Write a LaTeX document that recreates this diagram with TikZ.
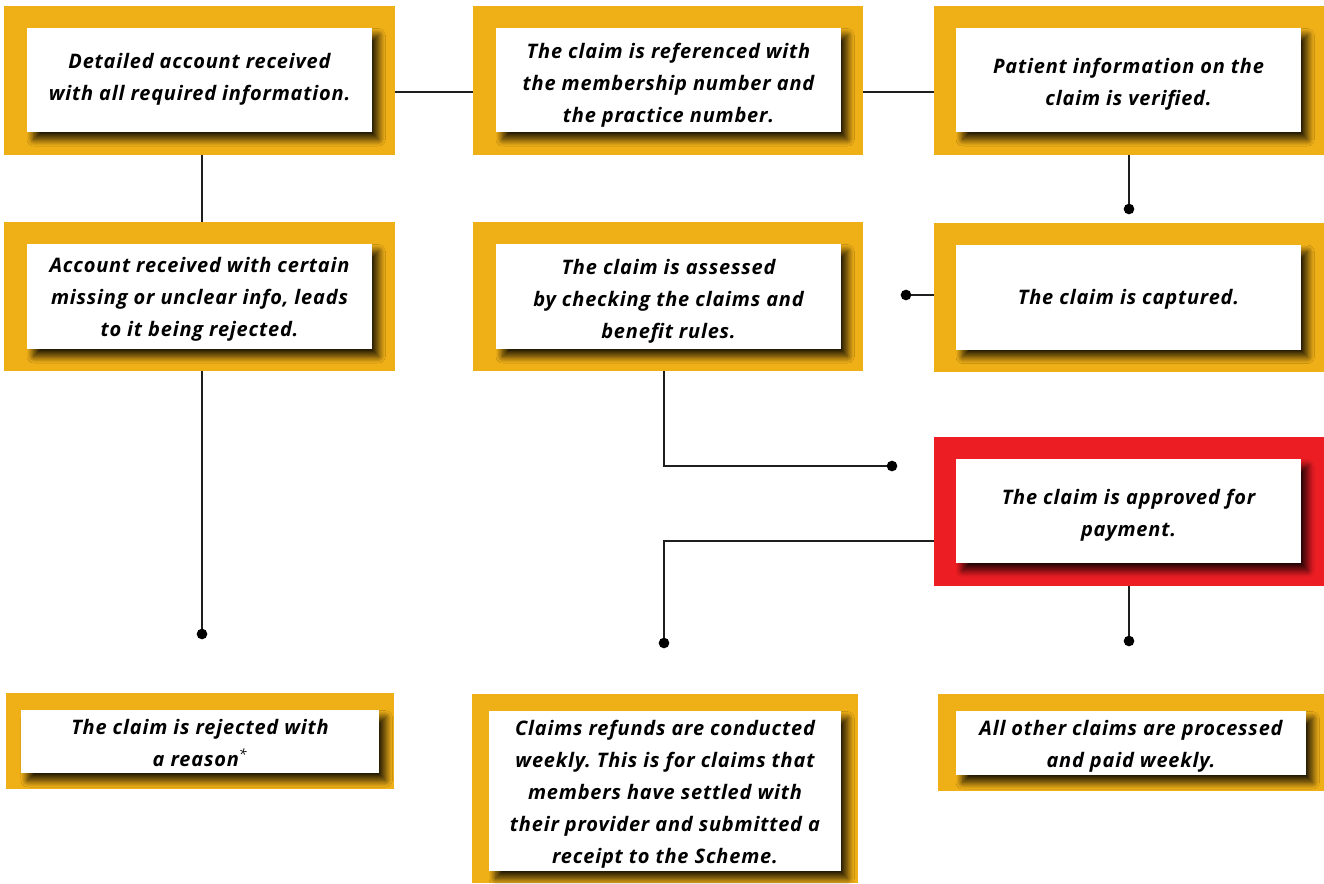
\documentclass[tikz,border=0pt]{standalone}
\usepackage{fontspec}
\setmainfont{Open Sans}[LetterSpace=4]
\usetikzlibrary{calc,shadows.blur}
\definecolor{gold}{RGB}{239,175,23}
\definecolor{alertred}{RGB}{237,29,36}
\definecolor{wire}{RGB}{30,30,30}
\tikzset{
  frame/.style={fill=gold, draw=none, inner sep=0pt},
  redframe/.style={fill=alertred, draw=none, inner sep=0pt},
  card/.style={fill=white, draw=none, inner sep=0pt,
    blur shadow={shadow xshift=5pt, shadow yshift=-5.5pt, shadow blur radius=5pt,
      shadow opacity=85, shadow blur steps=14}},
  txt/.style={inner sep=0pt, align=center,
    font=\fontsize{15}{24}\selectfont\bfseries\itshape\frenchspacing},
  wire/.style={draw=wire, line width=1.1pt},
  dot/.style={fill=black}
}
\begin{document}
\begin{tikzpicture}[x=0.75pt,y=-0.75pt]
\useasboundingbox (0,0) rectangle (1324,883);
% frames
\node[frame, minimum width=391*0.75pt, minimum height=149*0.75pt] (f1) at (199.5,80.5) {};
\node[frame, minimum width=390*0.75pt, minimum height=149*0.75pt] (f2) at (668,80.5) {};
\node[frame, minimum width=390*0.75pt, minimum height=149*0.75pt] (f3) at (1129,80.5) {};
\node[frame, minimum width=391*0.75pt, minimum height=149*0.75pt] (f4) at (199.5,296.5) {};
\node[frame, minimum width=390*0.75pt, minimum height=149*0.75pt] (f5) at (668,296.5) {};
\node[frame, minimum width=390*0.75pt, minimum height=149*0.75pt] (f6) at (1129,297.5) {};
\node[redframe, minimum width=390*0.75pt, minimum height=149*0.75pt] (f7) at (1129,511.5) {};
\node[frame, minimum width=388*0.75pt, minimum height=96*0.75pt] (f8) at (200,741) {};
\node[frame, minimum width=386*0.75pt, minimum height=189*0.75pt] (f9) at (665,788.5) {};
\node[frame, minimum width=386*0.75pt, minimum height=97*0.75pt] (f10) at (1131,742.5) {};
% cards
\node[card, minimum width=345*0.75pt, minimum height=104*0.75pt] (n1) at (199.5,80) {};
\node[card, minimum width=345*0.75pt, minimum height=104*0.75pt] (n2) at (668.5,80) {};
\node[card, minimum width=345*0.75pt, minimum height=104*0.75pt] (n3) at (1128.5,80) {};
\node[card, minimum width=345*0.75pt, minimum height=105*0.75pt] (n4) at (199.5,296.5) {};
\node[card, minimum width=345*0.75pt, minimum height=105*0.75pt] (n5) at (668.5,296.5) {};
\node[card, minimum width=345*0.75pt, minimum height=105*0.75pt] (n6) at (1128.5,297) {};
\node[card, minimum width=345*0.75pt, minimum height=104*0.75pt] (n7) at (1128.5,511) {};
\node[card, minimum width=358*0.75pt, minimum height=63*0.75pt] (n8) at (200,741.5) {};
\node[card, minimum width=352*0.75pt, minimum height=160*0.75pt] (n9) at (665,791) {};
\node[card, minimum width=350*0.75pt, minimum height=64*0.75pt] (n10) at (1131,743) {};
% texts
\node[txt] (t1) at ($(n1)+(0,-1)$) {Detailed account received\\with all required information.};
\node[txt] (t2) at ($(n2)+(0,5)$) {The claim is referenced with\\the membership number and\\the practice number.};
\node[txt] (t3) at ($(n3)+(0,4)$) {Patient information on the\\claim is verified.};
\node[txt] (t4) at ($(n4)+(0,3)$) {Account received with certain\\missing or unclear info, leads\\to it being rejected.};
\node[txt] (t5) at ($(n5)+(0,5)$) {The claim is assessed\\by checking the claims and\\benefit rules.};
\node[txt] (t6) at ($(n6)+(0,2)$) {The claim is captured.};
\node[txt] (t7) at ($(n7)+(0,4)$) {The claim is approved for\\payment.};
\node[txt] (t8) at ($(n8)+(0,1)$) {The claim is rejected with\\a reason\textsuperscript{\mdseries*}};
\node[txt] (t9) at ($(n9)+(0,3)$) {Claims refunds are conducted\\weekly. This is for claims that\\members have settled with\\their provider and submitted a\\receipt to the Scheme.};
\node[txt] (t10) at ($(n10)+(0,3)$) {All other claims are processed\\and paid weekly.};
% connector points
\coordinate (r1) at (0,92);
\coordinate (d3) at (1129,209);
\coordinate (d6) at (906,295);
\coordinate (d4) at (202,634);
\coordinate (c5) at (664,466);
\coordinate (d5) at (892,466);
\coordinate (c7) at (664,541);
\coordinate (d7) at (664,643);
\coordinate (d8) at (1129,641);
% connectors
\draw[wire] (f1.east |- r1) -- (f2.west |- r1);
\draw[wire] (f2.east |- r1) -- (f3.west |- r1);
\draw[wire] (f1.south -| d4) -- (f4.north -| d4);
\draw[wire] (f3.south -| d3) -- (d3);
\draw[wire] (f6.west |- d6) -- (d6);
\draw[wire] (f4.south -| d4) -- (d4);
\draw[wire] (f5.south -| c5) -- (c5) -- (d5);
\draw[wire] (f7.west |- c7) -- (c7) -- (d7);
\draw[wire] (f7.south -| d8) -- (d8);
% dots
\foreach \p in {d3,d6,d4,d5,d7,d8} \fill[dot] (\p) circle (4pt);
\end{tikzpicture}
\end{document}
